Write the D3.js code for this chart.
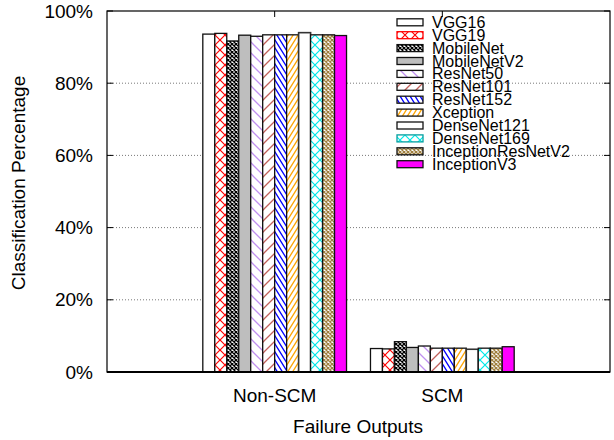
<!DOCTYPE html>
<html><head><meta charset="utf-8">
<script src="https://cdn.jsdelivr.net/npm/d3@7"></script>
<style>body{margin:0;background:#fff}svg{display:block;font-family:"Liberation Sans",Arial,sans-serif}</style>
</head><body><svg id="c" width="614" height="440"></svg>
<script>
const categories = ["Non-SCM", "SCM"];
const models = ["VGG16","VGG19","MobileNet","MobileNetV2","ResNet50","ResNet101","ResNet152","Xception","DenseNet121","DenseNet169","InceptionResNetV2","InceptionV3"];
const nonSCM = [93.6, 93.8, 91.7, 93.3, 93.0, 93.4, 93.4, 93.4, 94.0, 93.4, 93.4, 93.2];
const scm    = [6.5, 6.4, 8.4, 6.8, 7.2, 6.6, 6.6, 6.6, 6.3, 6.6, 6.6, 7.0];
const yTicks = [0, 20, 40, 60, 80, 100];
const xLabel = "Failure Outputs";
const yLabel = "Classification Percentage";

const styles = [
  {type:"solid", color:"#ffffff"},
  {type:"cross", color:"#ff0000", lc:"#ff0000"},
  {type:"dense", color:"#000000"},
  {type:"solid", color:"#bebebe"},
  {type:"back", color:"#c090f0"},
  {type:"fwd", color:"#c0605a"},
  {type:"backSteep", color:"#0000ff"},
  {type:"fwdSteep", color:"#ffa500"},
  {type:"solid", color:"#ffffff"},
  {type:"cross", color:"#00e8e8", lc:"#00a0a0"},
  {type:"dense", color:"#a08040"},
  {type:"solid", color:"#ff00ff"}
];

const svg = d3.select("#c");
const L = 107, R = 610, T = 11, B = 372;
const x = d3.scaleLinear().domain([-1, 2]).range([L, R]);
const y = d3.scaleLinear().domain([0, 100]).range([B, T]);

const defs = svg.append("defs");
styles.forEach((s, i) => {
  if (s.type === "solid") return;
  let w, h, d, sw = 1;
  if (s.type === "cross") { w = 10; h = 10; d = "M0,0L10,10M10,0L0,10"; sw = 1.2; }
  if (s.type === "dense") { w = 4; h = 4; d = "M0,0L4,4M4,0L0,4"; sw = 1.3; }
  if (s.type === "back") { w = 11; h = 11; d = "M0,0L11,11M-1,10L1,12M10,-1L12,1"; sw = 1.3; }
  if (s.type === "fwd") { w = 11; h = 11; d = "M0,11L11,0M-1,1L1,-1M10,12L12,10"; sw = 1.3; }
  if (s.type === "backSteep") { w = 5; h = 8; d = "M0,0L5,8M-1,6.4L1,9.6M4,-1.6L6,1.6"; sw = 1.3; }
  if (s.type === "fwdSteep") { w = 5; h = 8; d = "M0,8L5,0M-1,1.6L1,-1.6M4,9.6L6,6.4"; sw = 1.3; }
  const p = defs.append("pattern").attr("id", "pat" + i)
    .attr("patternUnits", "userSpaceOnUse").attr("width", w).attr("height", h);
  p.append("rect").attr("width", w).attr("height", h).attr("fill", "#fff");
  p.append("path").attr("d", d).attr("stroke", s.color).attr("stroke-width", sw).attr("fill", "none");
});
const fillOf = i => styles[i].type === "solid" ? styles[i].color : `url(#pat${i})`;

// grid
const grid = svg.append("g");
yTicks.filter(t => t > 0 && t < 100).forEach(t => {
  grid.append("line").attr("x1", L).attr("x2", R).attr("y1", y(t)).attr("y2", y(t))
    .attr("stroke", "#555").attr("stroke-width", 0.8).attr("stroke-dasharray", "1,2");
});

// bars
const n = models.length;
const bw = 1 / (n + 2);
const series = [nonSCM, scm];
const bars = svg.append("g");
series.forEach((vals, g) => {
  vals.forEach((v, i) => {
    const x0 = g - (n / 2) * bw + i * bw;
    bars.append("rect")
      .attr("x", x(x0)).attr("width", x(x0 + bw) - x(x0))
      .attr("y", y(v)).attr("height", y(0) - y(v))
      .attr("fill", fillOf(i))
      .attr("stroke", i === 8 ? "#333" : "#111").attr("stroke-width", i === 8 ? 1.6 : 1.3);
  });
});

// frame
svg.append("rect").attr("x", L).attr("y", T).attr("width", R - L).attr("height", B - T)
  .attr("fill", "none").attr("stroke", "#000").attr("stroke-width", 1.2);
svg.append("line").attr("x1", L).attr("x2", R).attr("y1", B).attr("y2", B).attr("stroke", "#000").attr("stroke-width", 1.8);

// y ticks
yTicks.forEach(t => {
  svg.append("line").attr("x1", L).attr("x2", L + 6).attr("y1", y(t)).attr("y2", y(t)).attr("stroke", "#000");
  svg.append("line").attr("x1", R - 6).attr("x2", R).attr("y1", y(t)).attr("y2", y(t)).attr("stroke", "#000");
  svg.append("text").attr("x", 93).attr("y", y(t) + 6.5).attr("text-anchor", "end")
    .attr("font-size", 19).attr("fill", "#000").text(t + "%");
});
// x ticks
categories.forEach((c, g) => {
  svg.append("line").attr("x1", x(g)).attr("x2", x(g)).attr("y1", T).attr("y2", T + 6).attr("stroke", "#000");
  svg.append("text").attr("x", x(g)).attr("y", 401.5).attr("text-anchor", "middle")
    .attr("font-size", 19).attr("fill", "#000").text(c);
});

svg.append("text").attr("x", (L + R) / 2 - 0.5).attr("y", 432.5).attr("text-anchor", "middle")
  .attr("font-size", 19).attr("fill", "#000").text(xLabel);
svg.append("text").attr("transform", "translate(25,183) rotate(-90)").attr("text-anchor", "middle")
  .attr("font-size", 19).attr("fill", "#000").text(yLabel);

// legend
const leg = svg.append("g");
models.forEach((m, i) => {
  const cy = 22.3 + i * 12.9;
  leg.append("rect").attr("x", 397).attr("y", cy - 3.5).attr("width", 26).attr("height", 7)
    .attr("fill", fillOf(i)).attr("stroke", styles[i].lc || "#111").attr("stroke-width", 1.3);
  leg.append("text").attr("x", 432).attr("y", cy + 5.5).attr("font-size", 16).attr("fill", "#000").text(m);
});
</script></body></html>
